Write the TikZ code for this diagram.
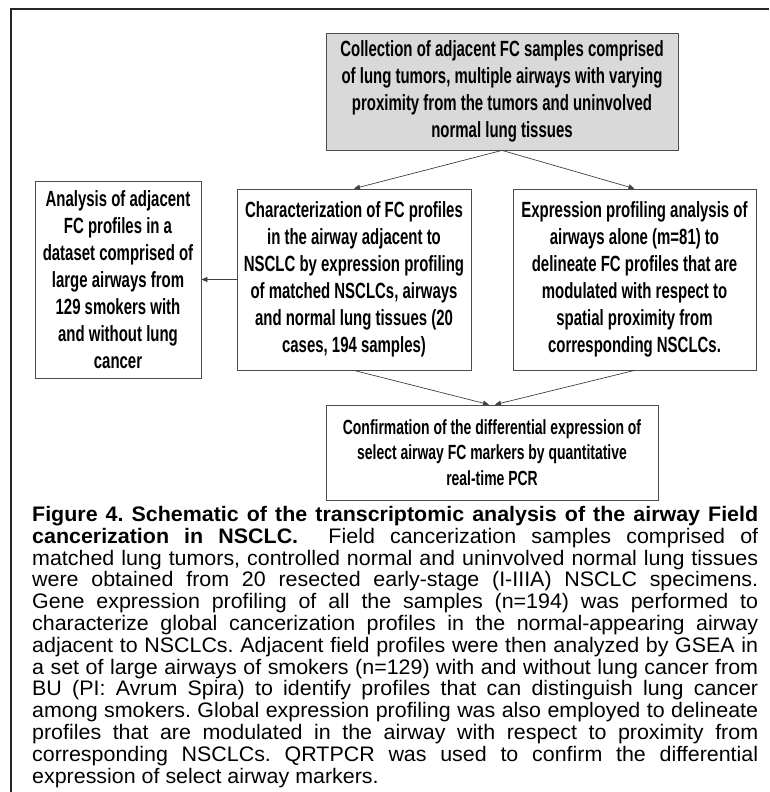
\documentclass[tikz,border=0pt]{standalone}
\usepackage{fontspec}
\setmainfont{Liberation Sans}
\newfontfamily\boxfont[FakeStretch=0.68]{Liberation Sans}
\newfontfamily\captionfont[FakeStretch=1.02]{Liberation Sans}
\usetikzlibrary{arrows.meta, positioning}

\begin{document}
\begin{tikzpicture}[x=1pt, y=-1pt,
    flowbox/.style={draw=black!70, line width=0.8pt, align=center, inner sep=2pt,
        font=\boxfont\bfseries\fontsize{22}{27}\selectfont},
    flowarrow/.style={draw=black!75, line width=0.7pt, -{Triangle[length=6pt, width=5pt]}}]
    \useasboundingbox (0,0) rectangle (769,792);

    % outer frame, cut off at the right and bottom
    \draw[line width=1.8pt, black!85] (11,792) -- (11,9) -- (769,9);

    % sample collection
    \node[flowbox, fill=black!15, minimum width=352pt, minimum height=117pt] (collect) at (502,91.5)
        {Collection of adjacent FC samples comprised\\ of lung tumors, multiple airways with varying\\ proximity from the tumors and uninvolved\\ normal lung tissues};

    % three analyses
    \node[flowbox, minimum width=166pt, minimum height=197pt] (adjacent) at (118,279.5)
        {Analysis of adjacent\\ FC profiles in a\\ dataset comprised of\\ large airways from\\ 129 smokers with\\ and without lung\\ cancer};
    \node[flowbox, minimum width=234pt, minimum height=181pt] (charact) at (354,279.5)
        {Characterization of FC profiles\\ in the airway adjacent to\\ NSCLC by expression profiling\\ of matched NSCLCs, airways\\ and normal lung tissues (20\\ cases, 194 samples)};
    \node[flowbox, minimum width=243pt, minimum height=181pt] (airways) at (634.5,279.5)
        {Expression profiling analysis of\\ airways alone (m=81) to\\ delineate FC profiles that are\\ modulated with respect to\\ spatial proximity from\\ corresponding NSCLCs.};

    % confirmation
    \node[flowbox, minimum width=332pt, minimum height=95pt,
        font=\boxfont\bfseries\fontsize{20.5}{25.5}\selectfont] (confirm) at (492,452.5)
        {Confirmation of the differential expression of\\ select airway FC markers by quantitative\\ real-time PCR};

    % arrows
    \draw[flowarrow] (collect.south) -- (charact.north);
    \draw[flowarrow] (collect.south) -- (airways.north);
    \draw[flowarrow] (charact.west) -- (adjacent.east);
    \draw[flowarrow] (charact.south) -- ([xshift=-3pt]confirm.north);
    \draw[flowarrow] (airways.south) -- ([xshift=3pt]confirm.north);

    % caption
    \node[anchor=north west, text width=726pt, inner sep=0pt, align=justify,
        font=\captionfont\fontsize{21}{21.8}\selectfont\frenchspacing] (caption) at (32,506)
        {\textbf{Figure 4. Schematic of the transcriptomic analysis of the airway Field\linebreak
        cancerization in NSCLC.}\ \ Field cancerization samples comprised of\linebreak
        matched lung tumors, controlled normal and uninvolved normal lung tissues\linebreak
        were obtained from 20 resected early-stage (I-IIIA) NSCLC specimens.\linebreak
        Gene expression profiling of all the samples (n=194) was performed to\linebreak
        characterize global cancerization profiles in the normal-appearing airway\linebreak
        adjacent to NSCLCs. Adjacent field profiles were then analyzed by GSEA in\linebreak
        a set of large airways of smokers (n=129) with and without lung cancer from\linebreak
        BU (PI: Avrum Spira) to identify profiles that can distinguish lung cancer\linebreak
        among smokers. Global expression profiling was also employed to delineate\linebreak
        profiles that are modulated in the airway with respect to proximity from\linebreak
        corresponding NSCLCs. QRTPCR was used to confirm the differential\linebreak
        expression of select airway markers.};
\end{tikzpicture}
\end{document}
